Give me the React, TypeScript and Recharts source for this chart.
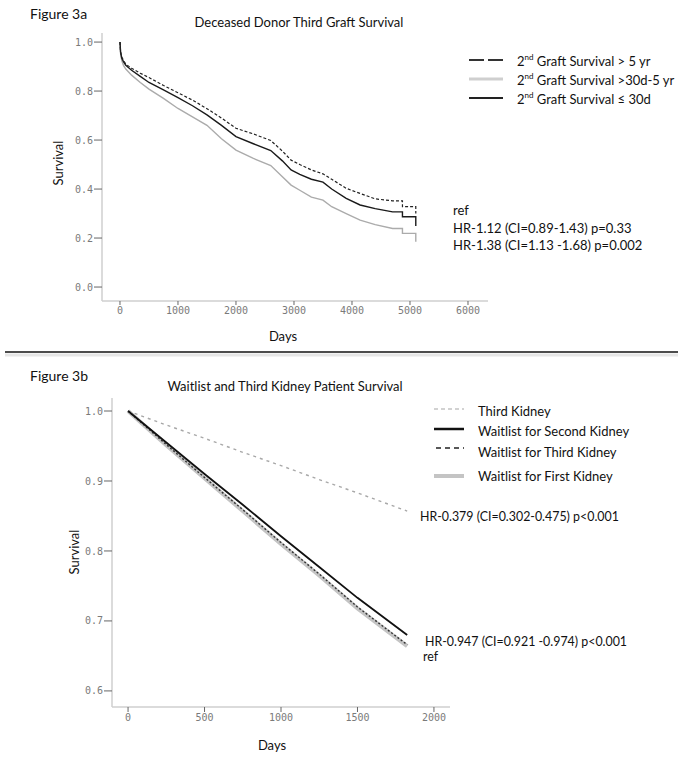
import React from "react";
import { LineChart, Line, XAxis, YAxis } from "recharts";

// Figure 3a: deceased donor third graft survival (Kaplan-Meier)
const graftDays = [0, 10, 30, 60, 100, 200, 350, 500, 750, 1000, 1250, 1500, 1750, 2000, 2300, 2600, 2800, 2950, 3100, 3300, 3500, 3650, 3900, 4140, 4400, 4700, 4870, 4870, 5100, 5100];
const graftGt5yr = [1.0, 0.96, 0.94, 0.925, 0.91, 0.893, 0.873, 0.855, 0.823, 0.793, 0.763, 0.728, 0.69, 0.648, 0.625, 0.598, 0.555, 0.518, 0.5, 0.478, 0.462, 0.44, 0.403, 0.382, 0.36, 0.352, 0.352, 0.328, 0.328, 0.3];
const graft30dTo5yr = [1.0, 0.955, 0.925, 0.905, 0.89, 0.865, 0.835, 0.808, 0.77, 0.729, 0.695, 0.66, 0.605, 0.559, 0.525, 0.496, 0.45, 0.416, 0.395, 0.367, 0.355, 0.328, 0.3, 0.273, 0.255, 0.239, 0.239, 0.219, 0.219, 0.185];
const graftLe30d = [1.0, 0.96, 0.935, 0.92, 0.905, 0.885, 0.86, 0.835, 0.805, 0.773, 0.74, 0.703, 0.66, 0.614, 0.585, 0.557, 0.515, 0.478, 0.46, 0.44, 0.428, 0.4, 0.362, 0.335, 0.32, 0.307, 0.307, 0.287, 0.287, 0.249];
const graftXTicks = [0, 1000, 2000, 3000, 4000, 5000, 6000];
const graftYTicks = [0, 0.2, 0.4, 0.6, 0.8, 1.0];
const graftLegend = [" Graft Survival > 5 yr", " Graft Survival >30d-5 yr", " Graft Survival \u2264 30d"];
const graftNotes = ["ref", "HR-1.12 (CI=0.89-1.43) p=0.33", "HR-1.38 (CI=1.13 -1.68) p=0.002"];

// Figure 3b: waitlist and third kidney patient survival
const kidneyDays = [0, 250, 500, 750, 1000, 1250, 1500, 1825];
const thirdKidney = [1.0, 0.98, 0.961, 0.941, 0.922, 0.902, 0.883, 0.857];
const waitSecond = [1.0, 0.955, 0.91, 0.866, 0.821, 0.777, 0.733, 0.68];
const waitThird = [1.0, 0.952, 0.905, 0.859, 0.812, 0.767, 0.72, 0.666];
const waitFirst = [1.0, 0.951, 0.904, 0.857, 0.81, 0.765, 0.718, 0.664];
const kidneyXTicks = [0, 500, 1000, 1500, 2000];
const kidneyYTicks = [0.6, 0.7, 0.8, 0.9, 1.0];
const kidneyLegend = ["Third Kidney", "Waitlist for Second Kidney", "Waitlist for Third Kidney", "Waitlist for First Kidney"];
const kidneyNotes = ["HR-0.379 (CI=0.302-0.475) p<0.001", "HR-0.947 (CI=0.921 -0.974) p<0.001", "ref"];

const graftRows = graftDays.map((day, i) => ({
  day,
  gt5: graftGt5yr[i],
  mid: graft30dTo5yr[i],
  le30: graftLe30d[i],
}));

const kidneyRows = kidneyDays.map((day, i) => ({
  day,
  third: thirdKidney[i],
  second: waitSecond[i],
  waitThird: waitThird[i],
  first: waitFirst[i],
}));

const FONT = "Lato, 'Open Sans', sans-serif";
const tickStyle = { fontSize: 10, fill: "#7a7a7a", fontFamily: "'DejaVu Sans Mono', monospace" };
const axisLine = { stroke: "#cfcfcf", strokeWidth: 1.5 };
const tickLine = { stroke: "#666" };

function Overlay() {
  const t = { fontFamily: FONT, fill: "#111", dominantBaseline: "central" as const };
  return (
    <svg width={683} height={759} style={{ position: "absolute", left: 0, top: 0, pointerEvents: "none" }}>
      {/* Figure 3a */}
      <text x={30} y={13} fontSize={14} {...t}>Figure 3a</text>
      <text x={299} y={22} fontSize={13} textAnchor="middle" {...t}>Deceased Donor Third Graft Survival</text>
      <text x={58} y={163} fontSize={13} textAnchor="middle" transform="rotate(-90 58 163)" {...t}>Survival</text>
      <text x={283} y={336} fontSize={13} textAnchor="middle" {...t}>Days</text>

      <line x1={469} x2={484} y1={60} y2={60} stroke="#333" strokeWidth={2} />
      <line x1={488} x2={503} y1={60} y2={60} stroke="#333" strokeWidth={2} />
      <line x1={469} x2={503} y1={79} y2={79} stroke="#cfcfcf" strokeWidth={3} />
      <line x1={469} x2={503} y1={98} y2={98} stroke="#222" strokeWidth={2} />
      {graftLegend.map((s, i) => (
        <text key={s} x={517} y={61 + i * 19} fontSize={13} {...t}>
          2<tspan fontSize={8} dy={-4}>nd</tspan>
          <tspan dy={4}>{s}</tspan>
        </text>
      ))}
      {graftNotes.map((s, i) => (
        <text key={s} x={453} y={210 + i * 17.5} fontSize={13} {...t}>{s}</text>
      ))}

      {/* divider */}
      <line x1={5} x2={678} y1={355} y2={355} stroke="#e6e6e6" strokeWidth={3} />
      <line x1={5} x2={678} y1={352} y2={352} stroke="#111" strokeWidth={1.5} />

      {/* Figure 3b */}
      <text x={30} y={375} fontSize={14} {...t}>Figure 3b</text>
      <text x={285} y={386} fontSize={13} textAnchor="middle" {...t}>Waitlist and Third Kidney Patient Survival</text>
      <text x={74} y={552} fontSize={13} textAnchor="middle" transform="rotate(-90 74 552)" {...t}>Survival</text>
      <text x={272} y={745} fontSize={13} textAnchor="middle" {...t}>Days</text>

      <line x1={434} x2={464} y1={409} y2={409} stroke="#c4c4c4" strokeWidth={1.5} strokeDasharray="4 3" />
      <line x1={434} x2={464} y1={429} y2={429} stroke="#111" strokeWidth={2.5} />
      <line x1={436} x2={464} y1={448} y2={448} stroke="#222" strokeWidth={1.5} strokeDasharray="5 4" />
      <line x1={434} x2={464} y1={476} y2={476} stroke="#c4c4c4" strokeWidth={4} />
      {kidneyLegend.map((s, i) => (
        <text key={s} x={478} y={[411, 431, 452, 476][i]} fontSize={13} {...t}>{s}</text>
      ))}
      <text x={420} y={516} fontSize={12.4} {...t}>{kidneyNotes[0]}</text>
      <text x={425} y={641} fontSize={12.4} {...t}>{kidneyNotes[1]}</text>
      <text x={423} y={656} fontSize={12.4} {...t}>{kidneyNotes[2]}</text>
    </svg>
  );
}

export default function App() {
  return (
    <div style={{ position: "absolute", left: 0, top: 0, width: 683, height: 759, background: "#fff" }}>
      <div style={{ position: "absolute", left: 0, top: 0 }}>
        <LineChart width={683} height={352} data={graftRows} margin={{ top: 33, right: 195, bottom: 21, left: 62 }}>
          <XAxis
            dataKey="day"
            type="number"
            domain={[-310, 6345]}
            ticks={graftXTicks}
            allowDataOverflow
            height={30}
            tick={tickStyle}
            tickSize={4}
            tickMargin={2}
            axisLine={axisLine}
            tickLine={tickLine}
          />
          <YAxis
            type="number"
            domain={[-0.057, 1.037]}
            ticks={graftYTicks}
            allowDataOverflow
            width={40}
            tick={tickStyle}
            tickSize={8}
            tickMargin={1}
            tickFormatter={(v: number) => v.toFixed(1)}
            axisLine={axisLine}
            tickLine={tickLine}
          />
          <Line dataKey="mid" type="linear" stroke="#ababab" strokeWidth={1.4} dot={false} isAnimationActive={false} />
          <Line dataKey="le30" type="linear" stroke="#1a1a1a" strokeWidth={1.4} dot={false} isAnimationActive={false} />
          <Line dataKey="gt5" type="linear" stroke="#222" strokeWidth={1.2} strokeDasharray="3 2" dot={false} isAnimationActive={false} />
        </LineChart>
      </div>
      <div style={{ position: "absolute", left: 0, top: 360 }}>
        <LineChart width={683} height={399} data={kidneyRows} margin={{ top: 38, right: 233, bottom: 22, left: 72 }}>
          <XAxis
            dataKey="day"
            type="number"
            domain={[-105, 2105]}
            ticks={kidneyXTicks}
            allowDataOverflow
            height={30}
            tick={tickStyle}
            tickSize={5}
            tickMargin={2}
            axisLine={axisLine}
            tickLine={tickLine}
          />
          <YAxis
            type="number"
            domain={[0.577, 1.0186]}
            ticks={kidneyYTicks}
            allowDataOverflow
            width={40}
            tick={tickStyle}
            tickSize={8}
            tickMargin={1}
            tickFormatter={(v: number) => v.toFixed(1)}
            axisLine={axisLine}
            tickLine={tickLine}
          />
          <Line dataKey="first" type="linear" stroke="#c4c4c4" strokeWidth={4} dot={false} isAnimationActive={false} />
          <Line dataKey="third" type="linear" stroke="#a8a8a8" strokeWidth={1.4} strokeDasharray="3 4" dot={false} isAnimationActive={false} />
          <Line dataKey="waitThird" type="linear" stroke="#333" strokeWidth={1.4} strokeDasharray="2 2" dot={false} isAnimationActive={false} />
          <Line dataKey="second" type="linear" stroke="#111" strokeWidth={1.8} dot={false} isAnimationActive={false} />
        </LineChart>
      </div>
      <Overlay />
    </div>
  );
}
